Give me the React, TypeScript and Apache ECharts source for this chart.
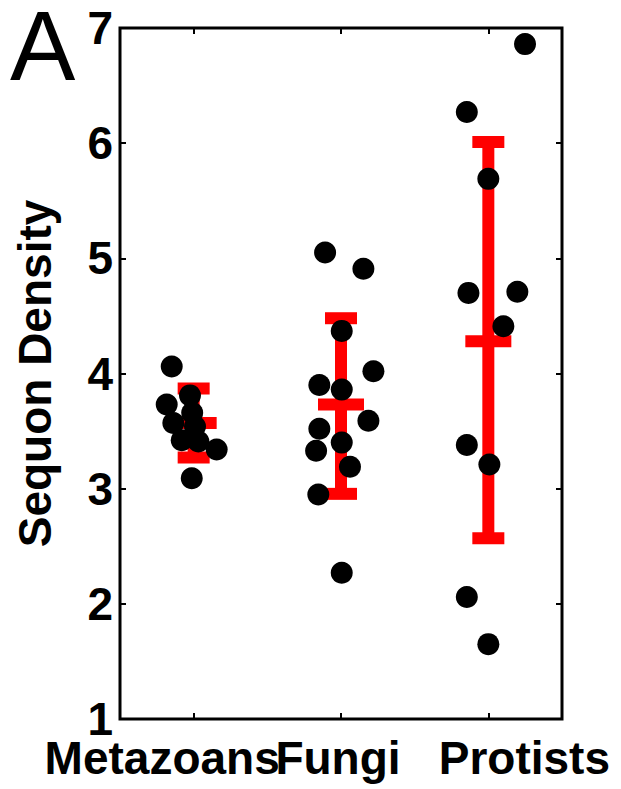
import React, { useEffect, useRef } from "react";
import * as echarts from "echarts";

const categories = ["Metazoans", "Fungi", "Protists"];
const yMin = 1;
const yMax = 7;
const yInterval = 1;

// jitter offsets (relative to category position) and values
const metazoansJitter = [-0.149, -0.025, -0.183, -0.01, -0.138, 0.009, -0.081, 0.032, 0.156, -0.013];
const metazoansValues = [4.06, 3.81, 3.73, 3.66, 3.57, 3.54, 3.42, 3.41, 3.34, 3.09];

const fungiJitter = [-0.108, 0.152, 0.005, 0.22, -0.147, 0.005, 0.186, -0.147, -0.169, 0.005, 0.061, -0.154, 0.005];
const fungiValues = [5.05, 4.91, 4.37, 4.02, 3.9, 3.86, 3.59, 3.52, 3.33, 3.4, 3.19, 2.95, 2.27];

const protistsJitter = [0.249, -0.146, 0.0, -0.135, 0.197, 0.102, -0.146, 0.007, -0.146, 0.0];
const protistsValues = [6.86, 6.27, 5.69, 4.7, 4.71, 4.41, 3.38, 3.21, 2.06, 1.65];

const groupMeans = [3.57, 3.73, 4.28];
const groupLower = [3.27, 2.955, 2.57];
const groupUpper = [3.87, 4.48, 6.01];

const jitters = [metazoansJitter, fungiJitter, protistsJitter];
const values = [metazoansValues, fungiValues, protistsValues];

const FONT = "'Liberation Sans', Arial, Helvetica, sans-serif";
const RED = "#ff0000";

export default function App() {
  const ref = useRef<HTMLDivElement>(null);

  useEffect(() => {
    if (!ref.current) return;
    const chart = echarts.init(ref.current, undefined, { renderer: "svg" });

    const scatterData: number[][] = [];
    values.forEach((vals, gi) => {
      vals.forEach((v, i) => {
        scatterData.push([gi + 1 + jitters[gi][i], v]);
      });
    });

    const errData = categories.map((_, i) => [i + 1, groupLower[i], groupUpper[i], groupMeans[i]]);

    const labelKeys = ["m", "f", "p"];

    const tickStyle = { show: true, inside: true, length: 6, lineStyle: { color: "#000", width: 2 } };

    const option: any = {
      animation: false,
      backgroundColor: "#fff",
      grid: {
        left: 120,
        right: 59,
        top: 28,
        bottom: 70,
        show: true,
        borderColor: "#000",
        borderWidth: 3,
        backgroundColor: "transparent",
      },
      graphic: [
        {
          type: "text",
          x: 10,
          y: 46,
          style: {
            text: "A",
            fontSize: 98,
            lineHeight: 80,
            fontFamily: FONT,
            fontWeight: "normal",
            fill: "#000",
            align: "left",
            verticalAlign: "middle",
          },
        },
      ],
      xAxis: [
        {
          type: "category",
          data: categories,
          position: "bottom",
          boundaryGap: true,
          axisLine: { show: false },
          axisTick: { ...tickStyle, alignWithLabel: true },
          splitLine: { show: false },
          axisLabel: {
            interval: 0,
            margin: 21,
            color: "#000",
            fontSize: 46,
            fontWeight: "bold",
            fontFamily: FONT,
            lineHeight: 36,
            formatter: (v: string, idx: number) => `{${labelKeys[idx]}|${v}}`,
            rich: {
              m: { fontSize: 46, lineHeight: 36, fontWeight: "bold", fontFamily: FONT, color: "#000", padding: [0, 63, 0, 0] },
              f: { fontSize: 46, lineHeight: 36, fontWeight: "bold", fontFamily: FONT, color: "#000", padding: [0, 6, 0, 0] },
              p: { fontSize: 46, lineHeight: 36, fontWeight: "bold", fontFamily: FONT, color: "#000", padding: [0, 0, 0, 72] },
            },
          },
        },
        {
          type: "category",
          data: categories,
          position: "top",
          boundaryGap: true,
          axisLine: { show: false },
          axisTick: { ...tickStyle, alignWithLabel: true },
          axisLabel: { show: false },
          splitLine: { show: false },
        },
        {
          type: "value",
          min: 0.5,
          max: 3.5,
          show: false,
          splitLine: { show: false },
        },
      ],
      yAxis: [
        {
          type: "value",
          min: yMin,
          max: yMax,
          interval: yInterval,
          position: "left",
          axisLine: { show: false },
          axisTick: tickStyle,
          splitLine: { show: false },
          axisLabel: {
            margin: 7,
            color: "#000",
            fontSize: 46,
            lineHeight: 30,
            fontWeight: "bold",
            fontFamily: FONT,
          },
          name: "Sequon Density",
          nameLocation: "middle",
          nameGap: 62,
          nameTextStyle: {
            color: "#000",
            fontSize: 46,
            fontWeight: "bold",
            fontFamily: FONT,
          },
        },
        {
          type: "value",
          min: yMin,
          max: yMax,
          interval: yInterval,
          position: "right",
          axisLine: { show: false },
          axisTick: tickStyle,
          axisLabel: { show: false },
          splitLine: { show: false },
        },
      ],
      series: [
        {
          type: "custom",
          xAxisIndex: 2,
          yAxisIndex: 0,
          clip: false,
          encode: { x: 0, y: [1, 2, 3] },
          data: errData,
          renderItem: (params: any, api: any) => {
            const x = api.value(0);
            const lo = api.value(1);
            const hi = api.value(2);
            const mean = api.value(3);
            const pHi = api.coord([x, hi]);
            const pLo = api.coord([x, lo]);
            const pMean = api.coord([x, mean]);
            const style = { fill: RED };
            const capH = 12;
            return {
              type: "group",
              children: [
                { type: "rect", shape: { x: pHi[0] - 6, y: pHi[1], width: 12, height: pLo[1] - pHi[1] }, style },
                { type: "rect", shape: { x: pHi[0] - 16, y: pHi[1] - capH / 2, width: 32, height: capH }, style },
                { type: "rect", shape: { x: pLo[0] - 16, y: pLo[1] - capH / 2, width: 32, height: capH }, style },
                { type: "rect", shape: { x: pMean[0] - 23, y: pMean[1] - capH / 2, width: 46, height: capH }, style },
              ],
            };
          },
          z: 2,
        },
        {
          type: "scatter",
          xAxisIndex: 2,
          yAxisIndex: 0,
          symbol: "circle",
          symbolSize: 22,
          itemStyle: { color: "#000", opacity: 1 },
          data: scatterData,
          z: 3,
        },
      ],
    };

    chart.setOption(option);
    return () => chart.dispose();
  }, []);

  return (
    <div
      ref={ref}
      style={{ position: "fixed", left: 0, top: 0, width: 621, height: 789, background: "#fff" }}
    />
  );
}
